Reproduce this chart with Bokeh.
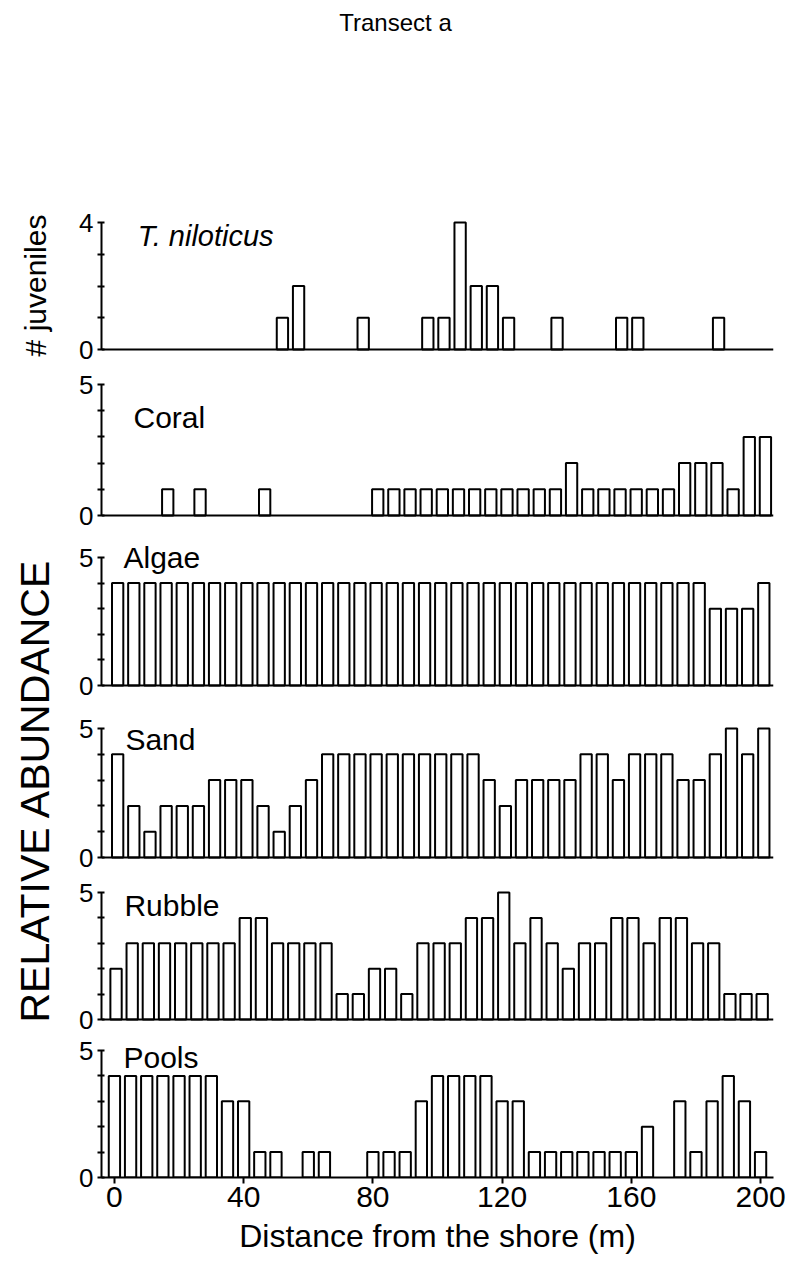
import math
from bokeh.plotting import figure
from bokeh.layouts import column, row
from bokeh.models import Range1d, FixedTicker, Span, Label, ColumnDataSource
from bokeh.core.validation import silence
from bokeh.core.validation.warnings import MISSING_RENDERERS
from bokeh.embed import file_html
from bokeh.resources import INLINE

silence(MISSING_RENDERERS, True)

FONT = "Liberation Sans"

# ---------------- data ----------------
distance = list(range(0, 205, 5))          # m, one bar every 5 m
x_ticks = [0, 40, 80, 120, 160, 200]

niloticus = [0, 0, 0, 0, 0, 0, 0, 0, 0, 0,
             1, 2, 0, 0, 0, 1, 0, 0, 0, 1,
             1, 4, 2, 2, 1, 0, 0, 1, 0, 0,
             0, 1, 1, 0, 0, 0, 0, 1, 0, 0,
             0]
coral = [0, 0, 0, 1, 0, 1, 0, 0, 0, 1,
         0, 0, 0, 0, 0, 0, 1, 1, 1, 1,
         1, 1, 1, 1, 1, 1, 1, 1, 2, 1,
         1, 1, 1, 1, 1, 2, 2, 2, 1, 3,
         3]
algae = [4] * 37 + [3, 3, 3, 4]
sand = [4, 2, 1, 2, 2, 2, 3, 3, 3, 2,
        1, 2, 3, 4, 4, 4, 4, 4, 4, 4,
        4, 4, 4, 3, 2, 3, 3, 3, 3, 4,
        4, 3, 4, 4, 4, 3, 3, 4, 5, 4,
        5]
rubble = [2, 3, 3, 3, 3, 3, 3, 3, 4, 4,
          3, 3, 3, 3, 1, 1, 2, 2, 1, 3,
          3, 3, 4, 4, 5, 3, 4, 3, 2, 3,
          3, 4, 4, 3, 4, 4, 3, 3, 1, 1,
          1]
pools = [4, 4, 4, 4, 4, 4, 4, 3, 3, 1,
         1, 0, 1, 1, 0, 0, 1, 1, 1, 3,
         4, 4, 4, 4, 3, 3, 1, 1, 1, 1,
         1, 1, 1, 2, 0, 3, 1, 3, 4, 3,
         1]

panel_names = ["T. niloticus", "Coral", "Algae", "Sand", "Rubble", "Pools"]
panel_values = [niloticus, coral, algae, sand, rubble, pools]
panel_ymax = [4, 5, 5, 5, 5, 5]

# ---------------- layout / style (page pixels) ----------------
# r0/r1: vertical page band of the panel, base/top: pixel of 0 and of ymax
styles = [
    dict(shift=2.0, r0=200, r1=366, base=349, top=222, lx=5.2, ly=3.59, italic=True),
    dict(shift=1.5, r0=366, r1=536, base=515, top=384, lx=4.4, ly=3.74, italic=False),
    dict(shift=1.0, r0=536, r1=706, base=685, top=557, lx=1.8, ly=5.0, italic=False),
    dict(shift=1.0, r0=706, r1=874, base=857, top=728, lx=2.4, ly=4.57, italic=False),
    dict(shift=0.5, r0=874, r1=1034, base=1019, top=892, lx=2.6, ly=4.49, italic=False),
    dict(shift=0.0, r0=1034, r1=1177, base=1177, top=1050, lx=2.8, ly=4.72, italic=False),
]
BOTTOM_LAST = 95
LW = 2


def make_panel(name, vals, ymax, st, last):
    s = st["shift"]
    ppu = (st["base"] - st["top"]) / ymax
    y_start = (st["base"] - st["r1"]) / ppu
    y_end = (st["base"] - st["r0"]) / ppu
    p = figure(frame_width=672, frame_height=st["r1"] - st["r0"],
               x_range=Range1d(-4 - s, 204 - s), y_range=Range1d(y_start, y_end),
               min_border_left=41, min_border_right=18,
               min_border_top=0, min_border_bottom=BOTTOM_LAST if last else 0,
               toolbar_location=None, output_backend="svg",
               x_axis_type="linear" if last else None)
    p.outline_line_color = None
    p.xgrid.visible = False
    p.ygrid.visible = False

    xs = [d for d, v in zip(distance, vals) if v > 0]
    tops = [v for v in vals if v > 0]
    src = ColumnDataSource(dict(x=xs, top=tops))
    p.vbar(x="x", top="top", bottom=0, width=3.5, source=src,
           fill_color="white", line_color="black", line_width=LW)

    ya = p.yaxis[0]
    ya.bounds = (0, ymax)
    ya.ticker = FixedTicker(ticks=[0, ymax], minor_ticks=list(range(1, ymax)))
    ya.axis_line_width = LW
    ya.major_tick_line_width = LW
    ya.minor_tick_line_width = LW
    ya.major_tick_in = 3
    ya.major_tick_out = 4
    ya.minor_tick_in = 3
    ya.minor_tick_out = 4
    ya.major_label_text_font = FONT
    ya.major_label_text_font_size = "26px"
    ya.major_label_text_color = "black"
    ya.major_label_standoff = 4

    if last:
        xa = p.xaxis[0]
        xa.ticker = FixedTicker(ticks=x_ticks, minor_ticks=[])
        xa.axis_line_width = LW
        xa.major_tick_line_width = LW
        xa.major_tick_in = 0
        xa.major_tick_out = 6
        xa.major_label_text_font = FONT
        xa.major_label_text_font_size = "30px"
        xa.major_label_text_color = "black"
        xa.major_label_standoff = 3
        xa.axis_label = "Distance from the shore (m)"
        xa.axis_label_text_font = FONT
        xa.axis_label_text_font_size = "32px"
        xa.axis_label_text_font_style = "normal"
        xa.axis_label_text_color = "black"
        xa.axis_label_standoff = 8
    else:
        p.add_layout(Span(location=0, dimension="width",
                          line_color="black", line_width=LW))

    p.add_layout(Label(x=st["lx"], y=st["ly"], text=name,
                       text_font=FONT,
                       text_font_size="29px" if st["italic"] else "30px",
                       text_font_style="italic" if st["italic"] else "normal",
                       text_align="left", text_baseline="middle",
                       text_color="black"))
    return p


panels = [make_panel(n, v, m, st, i == len(panel_names) - 1)
          for i, (n, v, m, st) in enumerate(zip(panel_names, panel_values, panel_ymax, styles))]

# title strip
t = figure(frame_width=791, frame_height=200, x_range=Range1d(0, 791), y_range=Range1d(200, 0),
           x_axis_type=None, y_axis_type=None, min_border=0,
           toolbar_location=None, output_backend="svg")
t.outline_line_color = None
t.grid.visible = False
t.add_layout(Label(x=395, y=22, text="Transect a", text_font=FONT, text_font_size="24px",
                   text_align="center", text_baseline="middle", text_color="black"))

# left strip with the rotated y labels
lft = figure(frame_width=60, frame_height=1072, x_range=Range1d(0, 60), y_range=Range1d(1072, 0),
             x_axis_type=None, y_axis_type=None, min_border=0,
             toolbar_location=None, output_backend="svg")
lft.outline_line_color = None
lft.grid.visible = False
lft.add_layout(Label(x=35, y=85, text="# juveniles", angle=math.pi / 2,
                     text_font=FONT, text_font_size="30px",
                     text_align="center", text_baseline="middle", text_color="black"))
lft.add_layout(Label(x=34, y=590, text="RELATIVE ABUNDANCE", angle=math.pi / 2,
                     text_font=FONT, text_font_size="41px",
                     text_align="center", text_baseline="middle", text_color="black"))

layout = column(t, row(lft, column(*panels)))

open("out.html", "w").write(file_html(layout, INLINE))
